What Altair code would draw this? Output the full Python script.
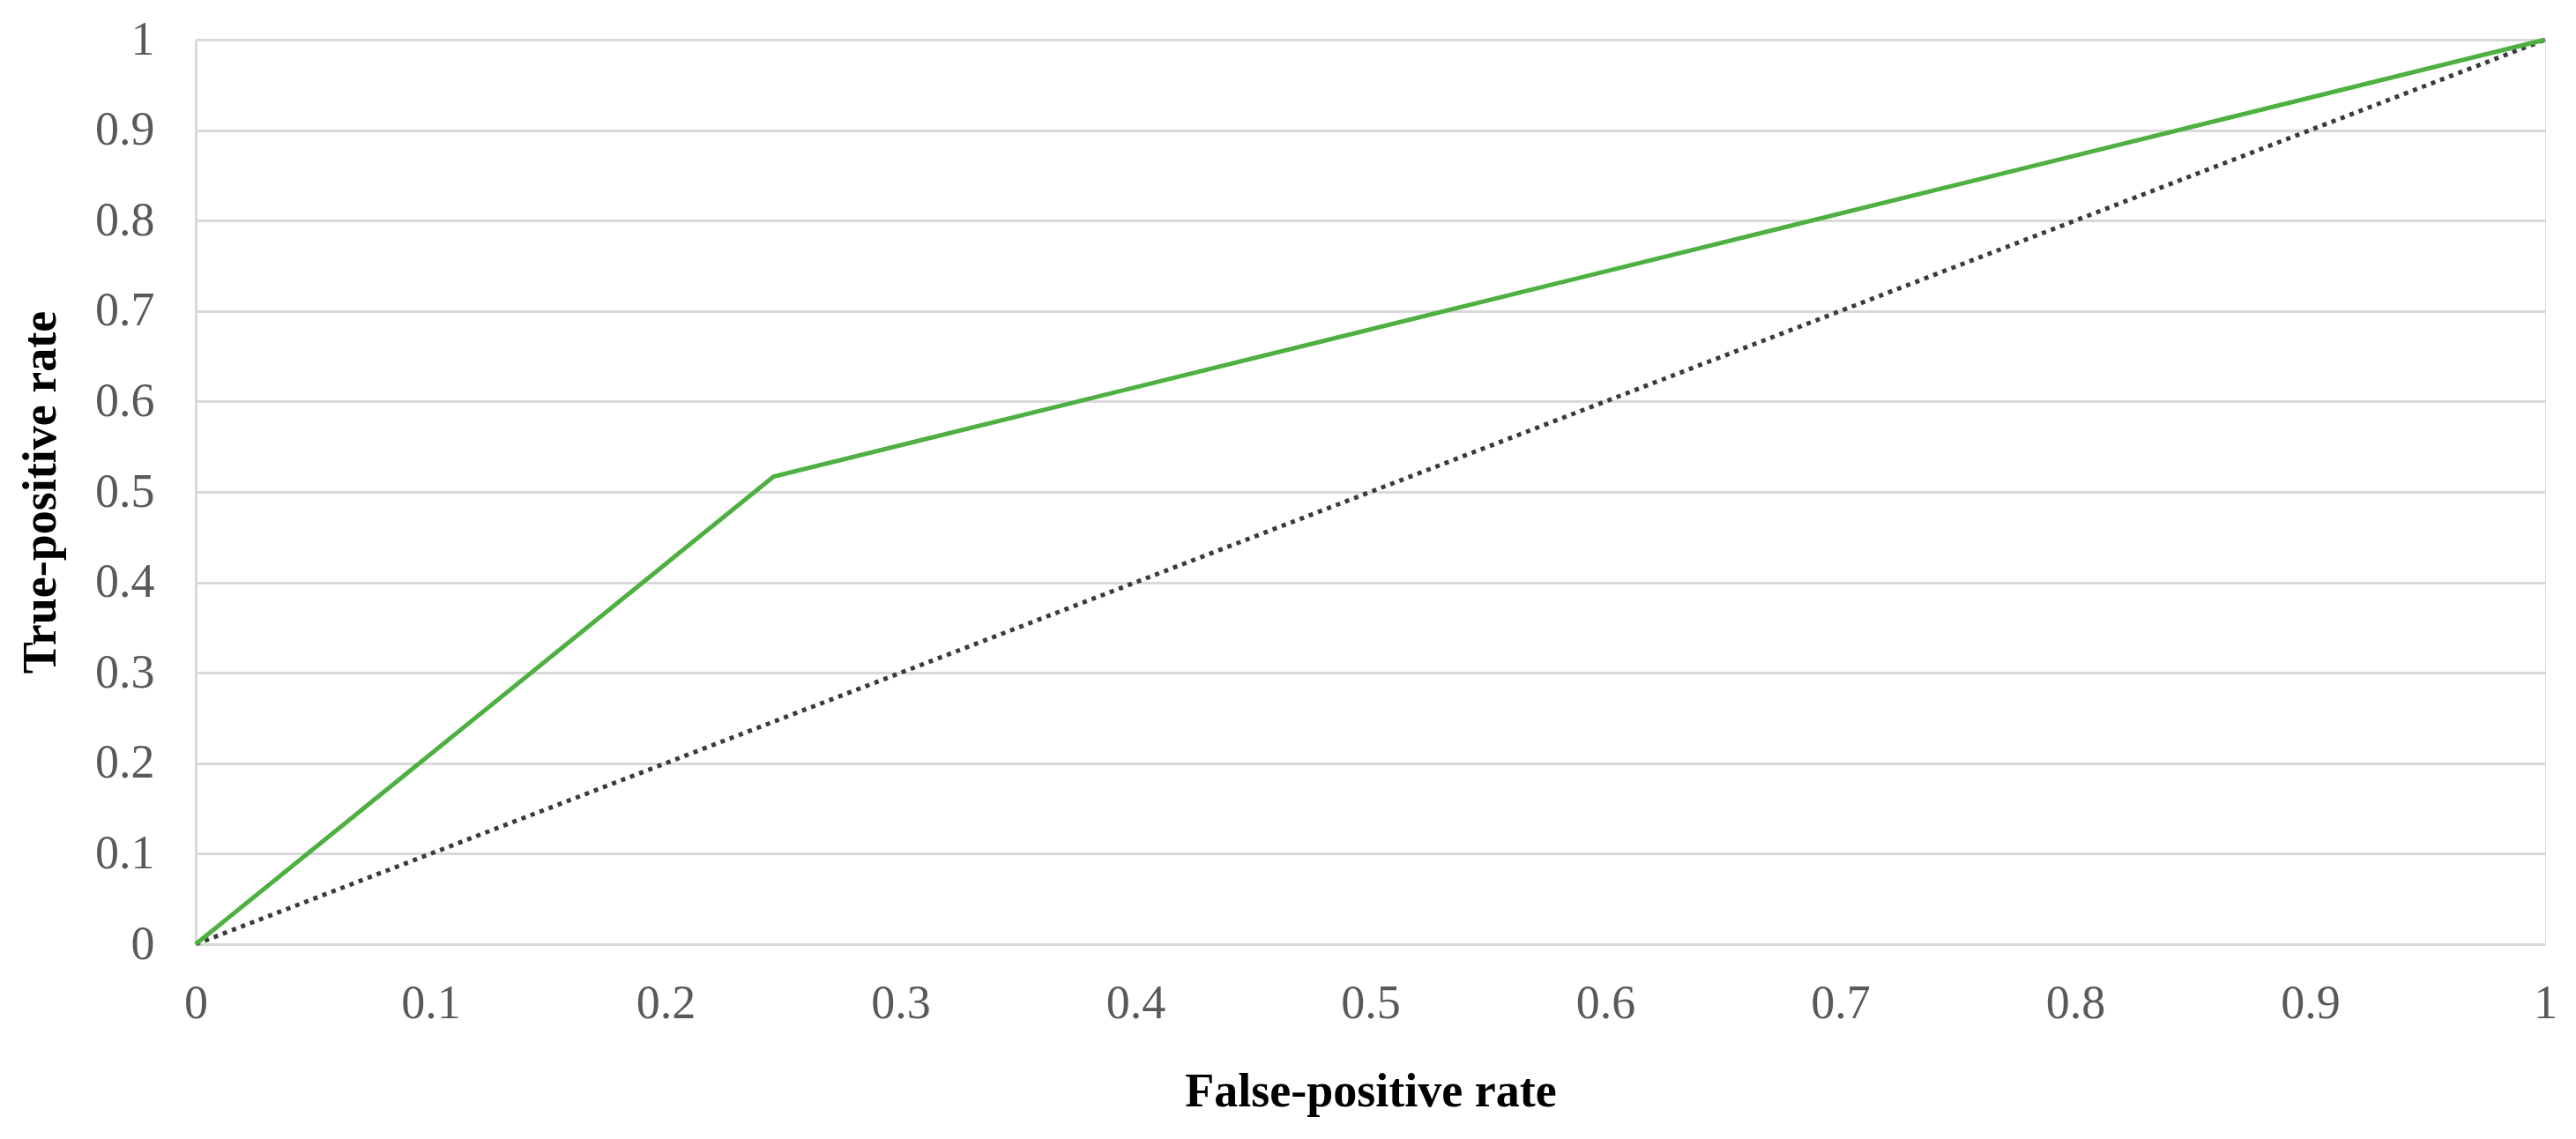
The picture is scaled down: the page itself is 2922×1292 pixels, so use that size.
import altair as alt
import pandas as pd

# ROC curve points
roc_fpr = [0.0, 0.246, 1.0]
roc_tpr = [0.0, 0.517, 1.0]

# chance diagonal
diag_fpr = [0.0, 1.0]
diag_tpr = [0.0, 1.0]

tick_values = [0, 0.1, 0.2, 0.3, 0.4, 0.5, 0.6, 0.7, 0.8, 0.9, 1]

roc_df = pd.DataFrame({"fpr": roc_fpr, "tpr": roc_tpr})
diag_df = pd.DataFrame({"fpr": diag_fpr, "tpr": diag_tpr})

FONT = "Liberation Serif"

x_enc = alt.X(
    "fpr:Q",
    scale=alt.Scale(domain=[0, 1], nice=False, zero=True),
    axis=alt.Axis(
        values=tick_values,
        format="~g",
        title="False-positive rate",
        grid=False,
        ticks=False,
        domain=True,
        domainColor="#D9D9D9",
        domainWidth=3,
        labelFont=FONT,
        labelFontSize=54,
        labelColor="#595959",
        labelPadding=40,
        labelFlush=False,
        labelOverlap=False,
        titleFont=FONT,
        titleFontSize=54,
        titleFontWeight="bold",
        titleColor="#000000",
        titlePadding=46,
    ),
)

y_enc = alt.Y(
    "tpr:Q",
    scale=alt.Scale(domain=[0, 1], nice=False, zero=True),
    axis=alt.Axis(
        values=tick_values,
        format="~g",
        title="True-positive rate",
        grid=True,
        gridColor="#D9D9D9",
        gridWidth=3,
        ticks=False,
        domain=True,
        domainColor="#D9D9D9",
        domainWidth=3,
        labelFont=FONT,
        labelFontSize=54,
        labelColor="#595959",
        labelPadding=47,
        labelFlush=False,
        labelOverlap=False,
        titleFont=FONT,
        titleFontSize=54,
        titleFontWeight="bold",
        titleColor="#000000",
        titlePadding=34,
    ),
)

diag = alt.Chart(diag_df).mark_line(
    color="#3A3A3A", strokeWidth=5, strokeDash=[5, 6]
).encode(x=x_enc, y=y_enc)

roc = alt.Chart(roc_df).mark_line(
    color="#4DB040", strokeWidth=5
).encode(x="fpr:Q", y="tpr:Q")

chart = (
    alt.layer(diag, roc)
    .properties(
        width=2665,
        height=1026,
        autosize=alt.AutoSizeParams(type="none"),
        padding={"left": 214, "top": 37, "right": 27, "bottom": 205},
    )
    .configure_view(stroke=None)
    .configure(background="white")
)

chart.save("out.html", embed_options={"renderer": "svg", "actions": False})
